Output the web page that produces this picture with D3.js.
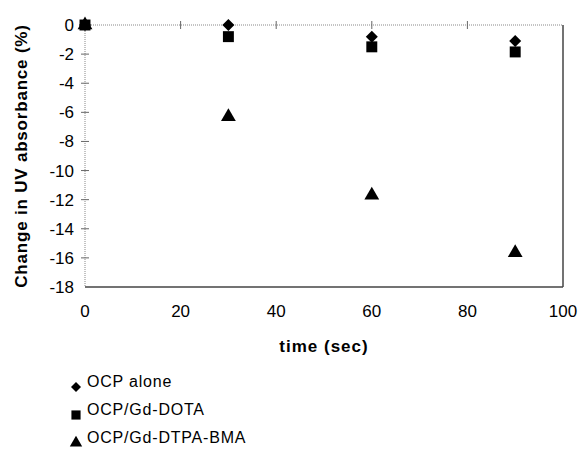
<!DOCTYPE html>
<html>
<head>
<meta charset="utf-8">
<script src="https://cdn.jsdelivr.net/npm/d3@7/dist/d3.min.js"></script>
<style>
  body { margin: 0; background: #fff; }
  text { font-family: Arial, "Liberation Sans", sans-serif; fill: #000; }
</style>
</head>
<body>
<script>
// donnees
const times = [0, 30, 60, 90];
const ocpAlone = [0, 0, -0.8, -1.1];
const ocpDota = [0, -0.8, -1.5, -1.85];
const ocpDtpa = [0, -6.3, -11.7, -15.65];
const xTicks = [0, 20, 40, 60, 80, 100];
const yTicks = [0, -2, -4, -6, -8, -10, -12, -14, -16, -18];
const seriesNames = ['OCP alone', 'OCP/Gd-DOTA', 'OCP/Gd-DTPA-BMA'];

const WIDTH = 579;
const HEIGHT = 453;

let svg = d3.select('body').append('svg')
    .attr('width', WIDTH)
    .attr('height', HEIGHT);

let x = d3.scaleLinear().domain([0, 100]).range([85, 563]);
let y = d3.scaleLinear().domain([0, -18]).range([25, 287]);

// cadre : droite et bas en trait plein
svg.append('line')
    .attr('x1', x(100)).attr('x2', x(100))
    .attr('y1', y(0)).attr('y2', y(-18))
    .attr('stroke', '#444').attr('stroke-width', 1.5);
svg.append('line')
    .attr('x1', x(0)).attr('x2', x(100))
    .attr('y1', y(-18)).attr('y2', y(-18))
    .attr('stroke', '#444').attr('stroke-width', 1.5);

// axes pointilles (x passe par y = 0)
svg.append('line')
    .attr('x1', x(0)).attr('x2', x(100))
    .attr('y1', y(0)).attr('y2', y(0))
    .attr('stroke', '#888').attr('stroke-dasharray', '1,1');
svg.append('line')
    .attr('x1', x(0)).attr('x2', x(0))
    .attr('y1', y(0)).attr('y2', y(-18))
    .attr('stroke', '#888').attr('stroke-dasharray', '1,1');

// graduations croisees
svg.selectAll('.xt').data(xTicks.slice(1, -1)).enter().append('line')
    .attr('x1', d => x(d)).attr('x2', d => x(d))
    .attr('y1', y(0) - 4).attr('y2', y(0) + 4)
    .attr('stroke', '#666');
svg.selectAll('.yt').data(yTicks.slice(1, -1)).enter().append('line')
    .attr('x1', x(0) - 4).attr('x2', x(0) + 4)
    .attr('y1', d => y(d)).attr('y2', d => y(d))
    .attr('stroke', '#666');

// etiquettes
svg.selectAll('.xl').data(xTicks).enter().append('text')
    .attr('x', d => x(d)).attr('y', 317)
    .attr('text-anchor', 'middle')
    .style('font-size', '17px')
    .text(d => d);
svg.selectAll('.yl').data(yTicks).enter().append('text')
    .attr('x', 74).attr('y', d => y(d) + 6)
    .attr('text-anchor', 'end')
    .style('font-size', '17px')
    .text(d => d === 0 ? '0' : '-' + Math.abs(d));

svg.append('text')
    .attr('x', x(50)).attr('y', 352)
    .attr('text-anchor', 'middle')
    .style('font-size', '17px').style('font-weight', 'bold')
    .style('letter-spacing', '1px')
    .text('time (sec)');
svg.append('text')
    .attr('transform', 'translate(27,' + y(-9) + ') rotate(-90)')
    .attr('text-anchor', 'middle')
    .style('font-size', '17px').style('font-weight', 'bold')
    .style('letter-spacing', '0.8px')
    .text('Change in UV absorbance (%)');

// symboles : losange = carre tourne de 45 degres
const shapes = [d3.symbolSquare, d3.symbolSquare, d3.symbolTriangle];
const rot = [45, 0, 0];
const sizes = [72, 120, 95];
const allSeries = [ocpAlone, ocpDota, ocpDtpa];

// ordre de dessin : triangle, losange, carre (le carre couvre le point 0)
[2, 0, 1].forEach(k => {
    svg.selectAll('.s' + k).data(times).enter().append('path')
        .attr('d', d3.symbol().type(shapes[k]).size(sizes[k]))
        .attr('transform', (d, i) => 'translate(' + x(d) + ',' + y(allSeries[k][i]) + ') rotate(' + rot[k] + ')')
        .attr('fill', '#000');
});

// legende
seriesNames.forEach((name, k) => {
    let ly = 387 + k * 28;
    svg.append('path')
        .attr('d', d3.symbol().type(shapes[k]).size(sizes[k] * 0.7))
        .attr('transform', 'translate(76,' + (ly) + ') rotate(' + rot[k] + ')')
        .attr('fill', '#000');
    svg.append('text')
        .attr('x', 87).attr('y', ly)
        .style('font-size', '16px')
        .style('letter-spacing', '0.8px')
        .text(name);
});
</script>
</body>
</html>
